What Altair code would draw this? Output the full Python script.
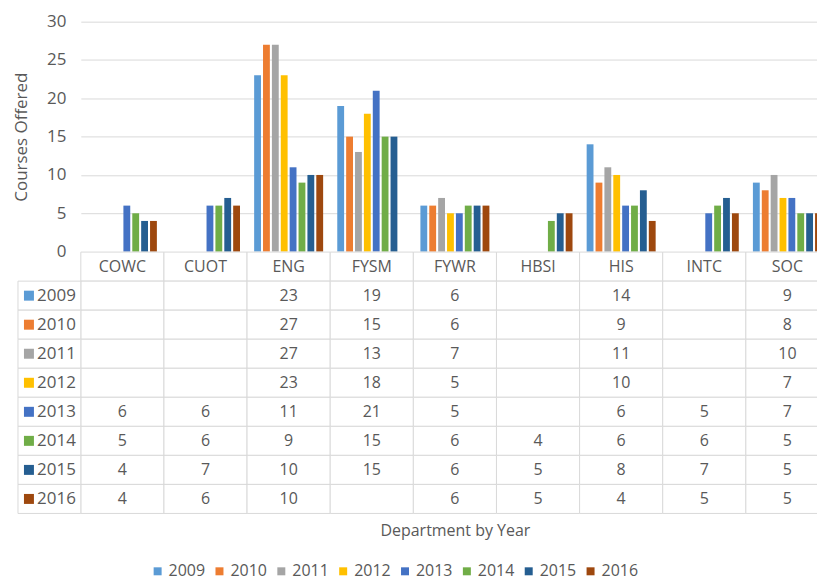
import altair as alt
import pandas as pd

depts = ["COWC", "CUOT", "ENG", "FYSM", "FYWR", "HBSI", "HIS", "INTC", "SOC"]
years = ["2009", "2010", "2011", "2012", "2013", "2014", "2015", "2016"]
colors = ["#5B9BD5", "#ED7D31", "#A5A5A5", "#FFC000", "#4472C4", "#70AD47", "#255E91", "#9E480E"]

v2009 = [None, None, 23, 19, 6, None, 14, None, 9]
v2010 = [None, None, 27, 15, 6, None, 9, None, 8]
v2011 = [None, None, 27, 13, 7, None, 11, None, 10]
v2012 = [None, None, 23, 18, 5, None, 10, None, 7]
v2013 = [6, 6, 11, 21, 5, None, 6, 5, 7]
v2014 = [5, 6, 9, 15, 6, 4, 6, 6, 5]
v2015 = [4, 7, 10, 15, 6, 5, 8, 7, 5]
v2016 = [4, 6, 10, None, 6, 5, 4, 5, 5]
series = [v2009, v2010, v2011, v2012, v2013, v2014, v2015, v2016]

y_ticks = [0, 5, 10, 15, 20, 25, 30]

GRAY = "#595959"
LINE = "#d9d9d9"
FONT = "Open Sans"
W = 750
H_TOP = 230.5
H_TAB = 262

bar_rows = []
for yr, vals in zip(years, series):
    for d, v in zip(depts, vals):
        if v is not None:
            bar_rows.append({"dept": d, "year": yr, "value": v})
bars_df = pd.DataFrame(bar_rows)

rows = ["hdr"] + years
cell_rows = []
for d in depts:
    cell_rows.append({"dept": d, "row": "hdr", "label": d})
    for yr, vals in zip(years, series):
        v = vals[depts.index(d)]
        cell_rows.append({"dept": d, "row": yr, "label": "" if v is None else str(v)})
cells_df = pd.DataFrame(cell_rows)
head_df = pd.DataFrame({"row": years, "year": years})

color_scale = alt.Scale(domain=years, range=colors)

top = alt.Chart(bars_df).mark_bar().encode(
    x=alt.X("dept:N", scale=alt.Scale(domain=depts, paddingInner=0.17, paddingOuter=0.085), axis=None),
    xOffset=alt.XOffset("year:N", scale=alt.Scale(domain=years, paddingInner=0.23)),
    y=alt.Y("value:Q", scale=alt.Scale(domain=[0, 30], nice=False),
            axis=alt.Axis(values=y_ticks, grid=True, gridColor=LINE, domain=False, ticks=False,
                          labelPadding=15, labelFontSize=17, labelColor=GRAY, labelFont=FONT,
                          title="Courses Offered", titleFontSize=17, titleColor=GRAY,
                          titleFont=FONT, titleFontWeight="normal", titlePadding=16)),
    color=alt.Color("year:N", scale=color_scale,
                    legend=alt.Legend(orient="none", legendX=69, legendY=543, direction="horizontal",
                                      title=None, symbolType="square", symbolSize=64,
                                      symbolStrokeWidth=0, labelFontSize=16, labelColor=GRAY,
                                      labelFont=FONT, columnPadding=6, labelOffset=3)),
).properties(width=W, height=H_TOP)

xs = alt.Scale(domain=depts, paddingInner=0, paddingOuter=0)
ys = alt.Scale(domain=rows, paddingInner=0, paddingOuter=0)

grid = alt.Chart(cells_df).mark_rect(fill="white", stroke=LINE, strokeWidth=1).encode(
    x=alt.X("dept:N", scale=xs,
            axis=alt.Axis(labels=False, ticks=False, domain=False, title="Department by Year",
                          titleFontSize=16, titleColor=GRAY, titleFont=FONT,
                          titleFontWeight="normal", titlePadding=9)),
    y=alt.Y("row:N", scale=ys, axis=None),
)
txt = alt.Chart(cells_df).mark_text(fontSize=16, color=GRAY, font=FONT).encode(
    x=alt.X("dept:N", scale=xs),
    y=alt.Y("row:N", scale=ys),
    text="label:N",
)
head_rect = alt.Chart(head_df).mark_rect(fill="white", stroke=LINE, strokeWidth=1).encode(
    x=alt.value(-63), x2=alt.value(0), y=alt.Y("row:N", scale=ys),
)
head_sq = alt.Chart(head_df).mark_square(size=100, opacity=1).encode(
    x=alt.value(-52), y=alt.Y("row:N", scale=ys),
    color=alt.Color("year:N", scale=color_scale, legend=None),
)
head_txt = alt.Chart(head_df).mark_text(fontSize=17, color=GRAY, font=FONT, align="right").encode(
    x=alt.value(-5), y=alt.Y("row:N", scale=ys), text="year:N",
)
table = alt.layer(grid, txt, head_rect, head_sq, head_txt).properties(width=W, height=H_TAB)

chart = alt.vconcat(top, table, spacing=0, bounds="flush").resolve_scale(
    x="independent", y="independent", color="independent"
).resolve_legend(color="independent").properties(
    padding={"left": 4, "top": 4, "right": -13, "bottom": -4}
).configure(font=FONT).configure_view(stroke=None)

chart.save("out.html", embed_options={"renderer": "svg", "actions": False})
